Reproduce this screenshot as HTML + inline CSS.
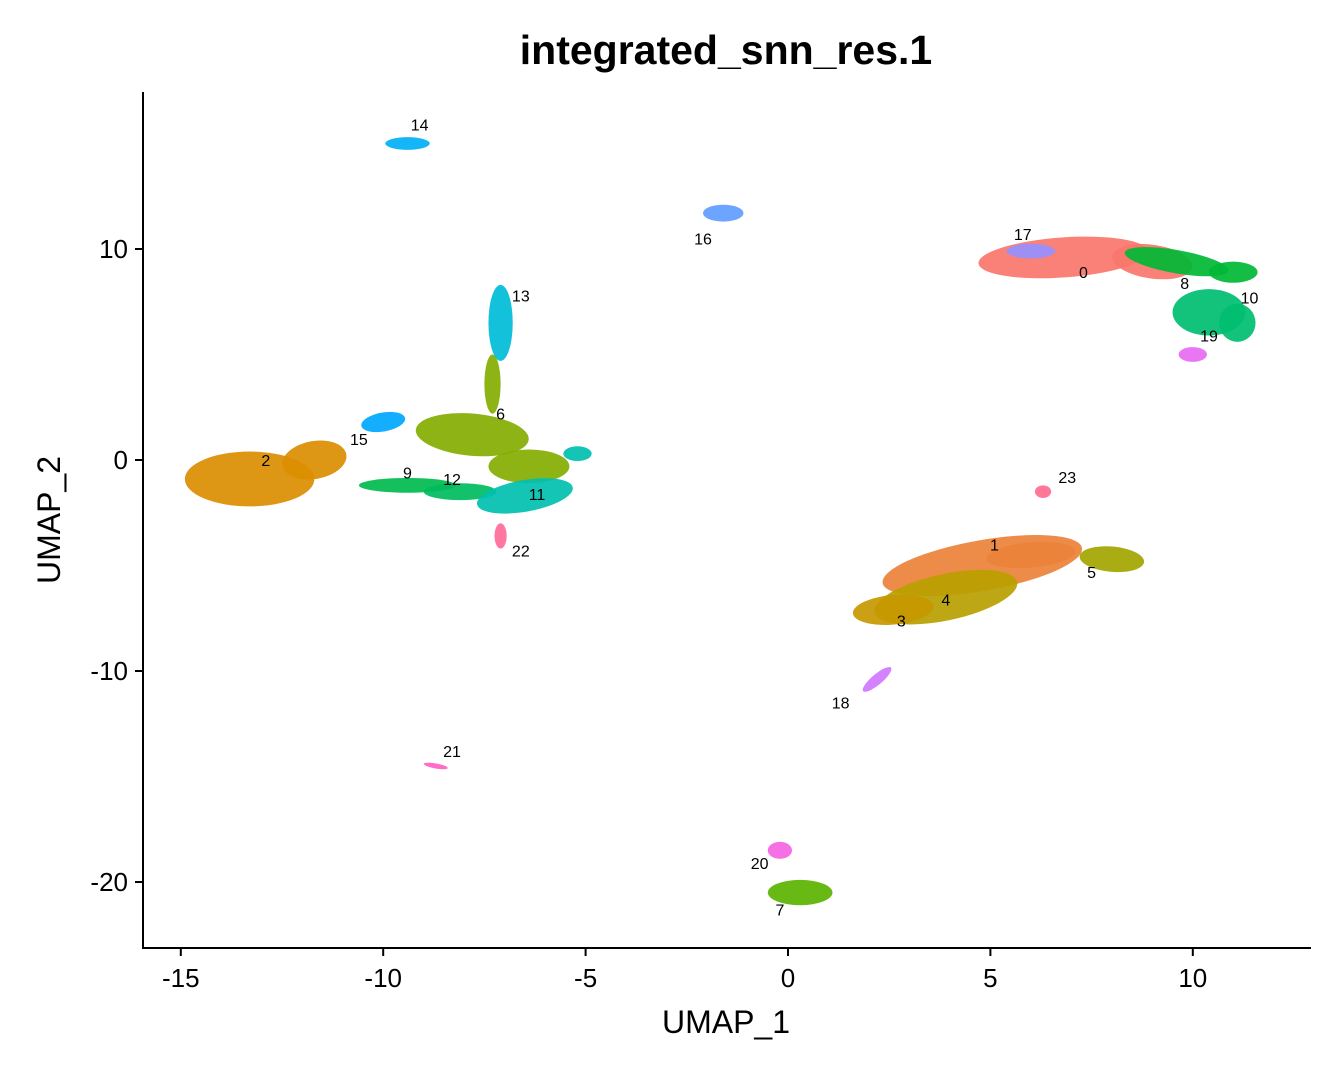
<!DOCTYPE html>
<html><head><meta charset="utf-8"><style>
html,body{margin:0;padding:0;background:#fff;}
svg{display:block;font-family:"Liberation Sans",Arial,sans-serif;}
</style></head><body>
<svg id="chart" width="1344" height="1075">
<rect width="1344" height="1075" fill="#fff"/>
<text x="726" y="64" font-size="41" font-weight="bold" text-anchor="middle">integrated_snn_res.1</text>
<g id="blobs"></g>
<g id="labels"></g>
<line x1="143" y1="92" x2="143" y2="949" stroke="#000" stroke-width="2"/>
<line x1="142" y1="948" x2="1311" y2="948" stroke="#000" stroke-width="2"/>
<g id="axes"></g>
<text x="726" y="1033" font-size="32" text-anchor="middle">UMAP_1</text>
<text x="60" y="520" font-size="32" text-anchor="middle" transform="rotate(-90 60 520)">UMAP_2</text>
</svg>
<script>
const xTicks=[-15,-10,-5,0,5,10];
const yTicks=[10,0,-10,-20];
const colors=["#F8766D","#EC8239","#DB8E00","#C79800","#B8A000","#A3A500","#84AD00","#5BB300","#00B935","#00BB4E","#00BE70","#00C0B0","#00BC5E","#00BCD8","#00B0F6","#00A7FF","#619CFF","#9590FF","#D077FF","#E76BF3","#F564E3","#FF61C3","#FF6A98","#FF6C91"];
const blobCluster=[14,16,0,0,17,8,8,10,10,19,1,1,4,3,5,23,18,2,2,15,6,6,6,13,9,12,11,11,22,21,7,20];
const blobX=[-9.4,-1.6,6.8,9.0,6.0,9.6,11.0,10.4,11.1,10.0,4.8,6.0,3.9,2.6,8.0,6.3,2.2,-13.3,-11.7,-10.0,-7.8,-7.3,-6.4,-7.1,-9.4,-8.1,-6.5,-5.2,-7.1,-8.7,0.3,-0.2];
const blobY=[15.0,11.7,9.6,9.4,9.9,9.4,8.9,7.0,6.5,5.0,-5.0,-4.5,-6.5,-7.1,-4.7,-1.5,-10.4,-0.9,0.0,1.8,1.2,3.6,-0.3,6.5,-1.2,-1.5,-1.7,0.3,-3.6,-14.5,-20.5,-18.5];
const blobRX=[0.55,0.5,2.1,1.0,0.6,1.3,0.6,0.9,0.45,0.35,2.5,1.1,1.8,1.0,0.8,0.2,0.45,1.6,0.8,0.55,1.4,0.2,1.0,0.3,1.2,0.9,1.2,0.35,0.15,0.3,0.8,0.3];
const blobRY=[0.3,0.4,0.95,0.8,0.35,0.55,0.5,1.1,0.9,0.35,1.2,0.6,1.1,0.7,0.6,0.3,0.25,1.3,0.9,0.45,1.0,1.4,0.8,1.8,0.35,0.4,0.75,0.35,0.6,0.12,0.6,0.4];
const blobRot=[0,0,-4,8,0,10,0,0,0,0,-10,-5,-12,-5,5,0,-40,0,-10,-10,5,0,0,0,0,0,-10,0,0,10,0,0];
const labelText=["14","16","17","0","8","10","19","23","1","5","4","3","18","2","15","6","13","9","12","11","22","21","20","7"];
const labelX=[-9.1,-2.1,5.8,7.3,9.8,11.4,10.4,6.9,5.1,7.5,3.9,2.8,1.3,-12.9,-10.6,-7.1,-6.6,-9.4,-8.3,-6.2,-6.6,-8.3,-0.7,-0.2];
const labelY=[15.9,10.5,10.7,8.9,8.4,7.7,5.9,-0.8,-4.0,-5.3,-6.6,-7.6,-11.5,0.0,1.0,2.2,7.8,-0.6,-0.9,-1.6,-4.3,-13.8,-19.1,-21.3];
const NS="http://www.w3.org/2000/svg";
function sx(v){return 788+(v)*40.48;}
function sy(v){return 460-(v)*21.1;}
const blobs=document.getElementById('blobs');
for(let i=0;i<blobCluster.length;i++){
  const e=document.createElementNS(NS,'ellipse');
  
  
  const cx=sx(blobX[i]),cy=sy(blobY[i]);
  e.setAttribute('cx',cx);e.setAttribute('cy',cy);
  e.setAttribute('rx',blobRX[i]*40.48);e.setAttribute('ry',blobRY[i]*21.1);
  e.setAttribute('transform','rotate('+blobRot[i]+' '+cx+' '+cy+')');
  e.setAttribute('fill',colors[blobCluster[i]]);
  e.setAttribute('fill-opacity','0.92');
  blobs.appendChild(e);
}
const labels=document.getElementById('labels');
for(let i=0;i<labelText.length;i++){
  const t=document.createElementNS(NS,'text');
  
  
  t.setAttribute('x',sx(labelX[i]));t.setAttribute('y',sy(labelY[i])+6);
  t.setAttribute('font-size','16');t.setAttribute('text-anchor','middle');
  t.textContent=labelText[i];labels.appendChild(t);
}
const axes=document.getElementById('axes');
xTicks.forEach(v=>{
  const l=document.createElementNS(NS,'line');
  
  
  l.setAttribute('x1',sx(v));l.setAttribute('x2',sx(v));l.setAttribute('y1',948);l.setAttribute('y2',956);l.setAttribute('stroke','#000');l.setAttribute('stroke-width','2');
  axes.appendChild(l);
  const t=document.createElementNS(NS,'text');
  
  
  t.setAttribute('x',sx(v));t.setAttribute('y',987);t.setAttribute('font-size','26');t.setAttribute('text-anchor','middle');
  t.textContent=v;axes.appendChild(t);
});
yTicks.forEach(v=>{
  const l=document.createElementNS(NS,'line');
  
  
  l.setAttribute('x1',135);l.setAttribute('x2',143);l.setAttribute('y1',sy(v));l.setAttribute('y2',sy(v));l.setAttribute('stroke','#000');l.setAttribute('stroke-width','2');
  axes.appendChild(l);
  const t=document.createElementNS(NS,'text');
  
  
  t.setAttribute('x',128);t.setAttribute('y',sy(v)+9);t.setAttribute('font-size','26');t.setAttribute('text-anchor','end');
  t.textContent=v;axes.appendChild(t);
});
</script>
</body></html>
